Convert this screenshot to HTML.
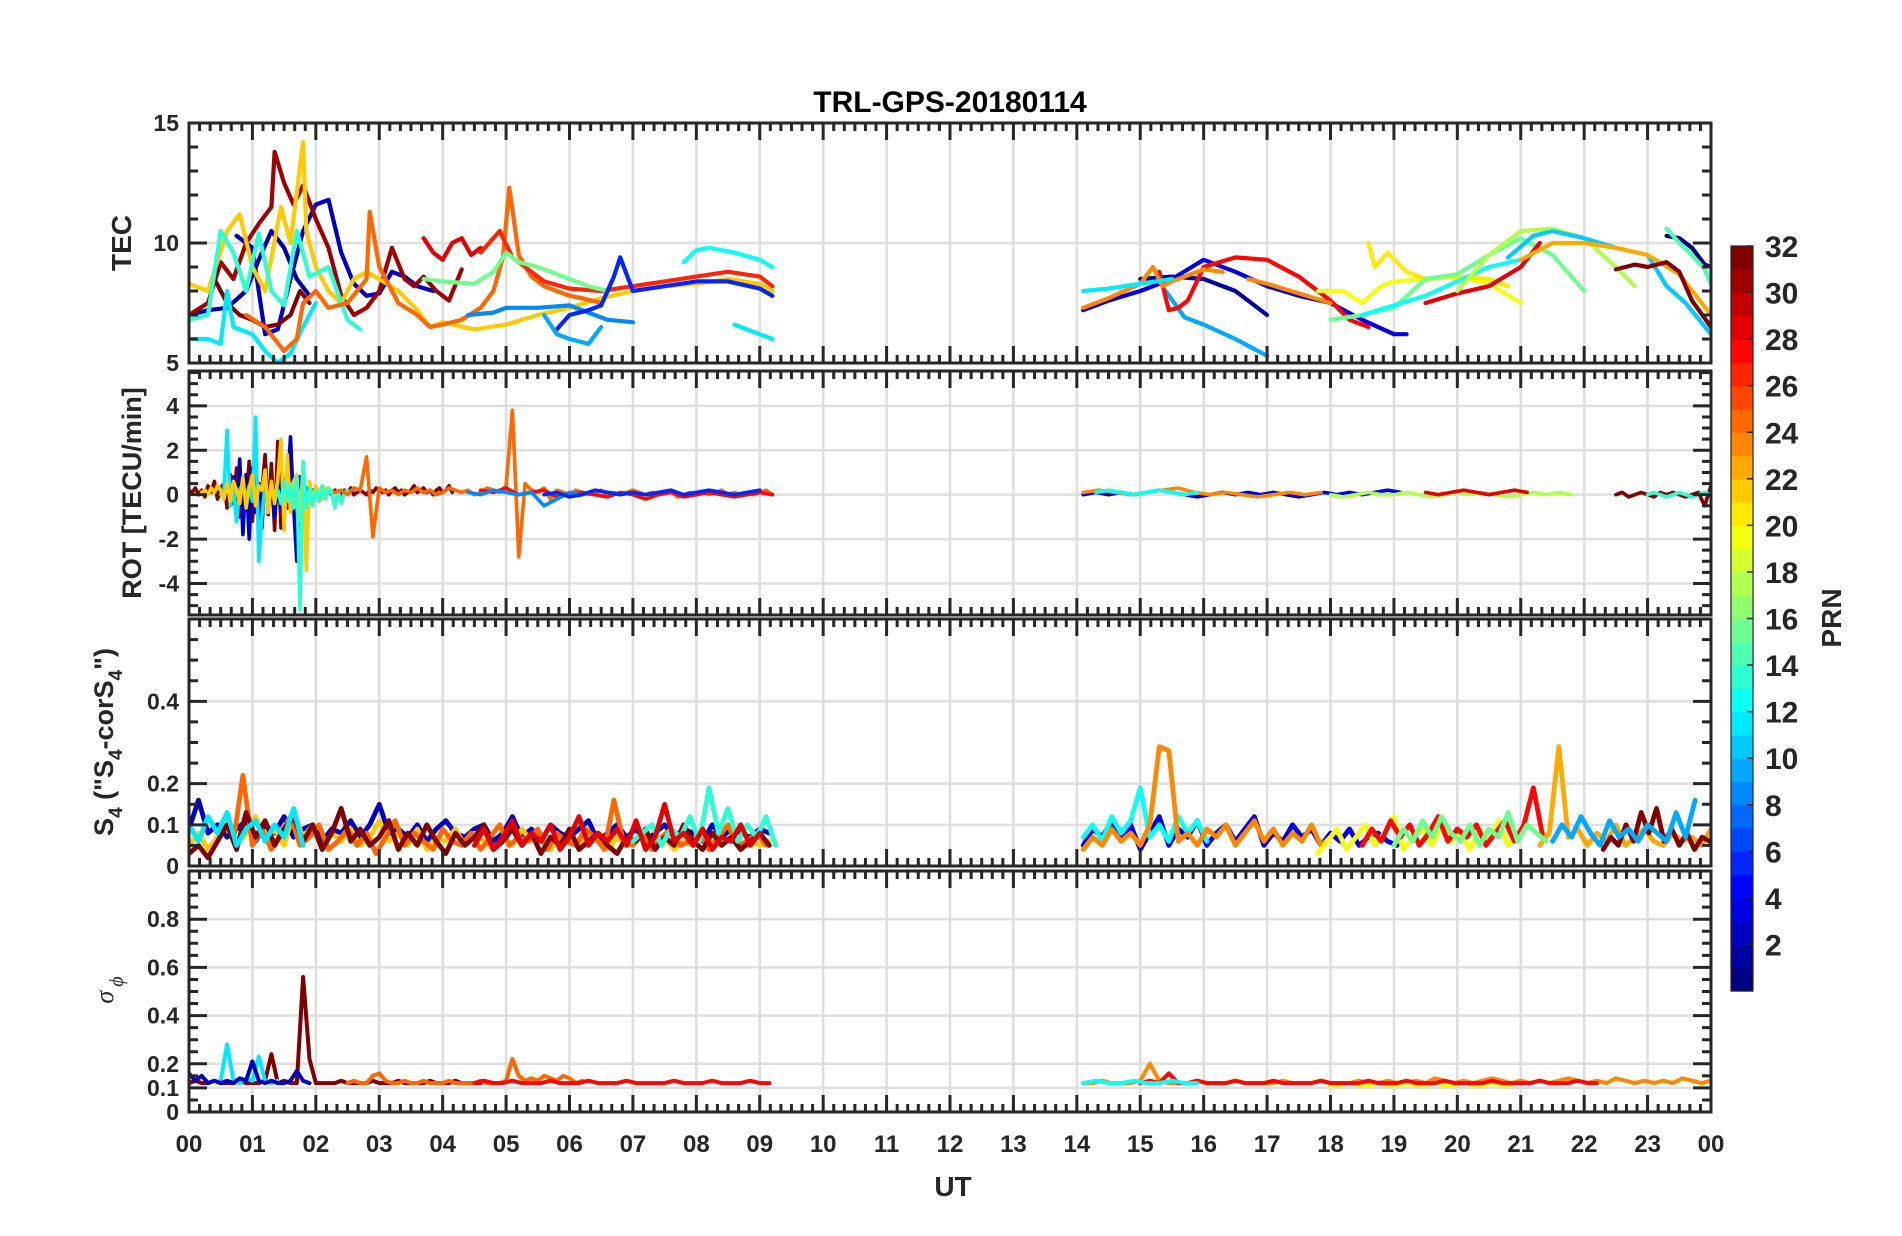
<!DOCTYPE html>
<html><head><meta charset="utf-8"><title>TRL-GPS-20180114</title>
<style>
html,body{margin:0;padding:0;background:#fff;}
svg{display:block;}
text{font-family:"Liberation Sans",Arial,sans-serif;font-weight:bold;fill:#262626;}
</style></head>
<body>
<svg id="chart" width="1902" height="1236" viewBox="0 0 1902 1236" xmlns="http://www.w3.org/2000/svg">
<rect x="0" y="0" width="1902" height="1236" fill="#fff"/>
<g id="grid"></g>
<g id="data"></g>
<g id="axes"></g>
<text x="950" y="112" font-size="30" text-anchor="middle" fill="#000" style="fill:#000">TRL-GPS-20180114</text>
<text transform="translate(131,243) rotate(-90)" font-size="28" text-anchor="middle">TEC</text>
<text transform="translate(141,493) rotate(-90)" font-size="27" text-anchor="middle">ROT [TECU/min]</text>
<text transform="translate(113,742) rotate(-90)" font-size="27" text-anchor="middle">S<tspan font-size="19" dy="9">4</tspan><tspan dy="-9"> ("S</tspan><tspan font-size="19" dy="9">4</tspan><tspan dy="-9">-corS</tspan><tspan font-size="19" dy="9">4</tspan><tspan dy="-9">")</tspan></text>
<text transform="translate(113,990) rotate(-90)" font-size="26" text-anchor="middle" style="font-family:'Liberation Serif',serif;font-style:italic;font-weight:normal">σ<tspan font-size="20" dy="10" dx="4">ϕ</tspan></text>
<text x="953" y="1196" font-size="28" text-anchor="middle">UT</text>
<g id="cbar"></g>
<text transform="translate(1841,618) rotate(-90)" font-size="28" text-anchor="middle">PRN</text>
</svg>
<script>
// ---------- TEC data ----------
const tecPrn = [2,3,31,32,22,12,14,25,29,27,16,9,6,10,13,12,
  2,4,10,28,24,12,24,20,21,16,13,29,18,11,23,32,1,15];
const tecTimes = [
 [0,0.3,0.6,0.9,1.1,1.3,1.5,1.7,1.9],
 [0.75,1.0,1.2,1.4,1.6,1.8,2.0,2.2,2.4,2.6,2.8,3.0,3.2,3.4,3.6,3.85],
 [0,0.3,0.5,0.7,0.9,1.1,1.3,1.35,1.5,1.65,1.8,2.0,2.2,2.4,2.6,2.8,3.0,3.2,3.4,3.55,3.7,3.9,4.1,4.3],
 [0.4,0.6,0.8,1.0,1.2,1.4,1.6,1.75,1.9],
 [0,0.3,0.6,0.8,1.0,1.2,1.45,1.6,1.8,1.85,2.0,2.2,2.4,2.6,2.8,3.0,3.3,3.6,3.8,4.0,4.5,5.0,5.5,6.0,6.5,7.0,7.5,8.0,8.5,9.0,9.2],
 [0,0.3,0.5,0.6,0.7,1.0,1.2,1.4,1.6,1.8,2.0],
 [0,0.3,0.5,0.7,0.9,1.1,1.3,1.5,1.7,1.9,2.2,2.5,2.7],
 [0.9,1.2,1.5,1.7,1.8,2.0,2.2,2.5,2.8,2.85,3.0,3.3,3.6,3.8,4.0,4.3,4.6,4.8,4.95,5.05,5.2,5.4,5.6,5.8,6.0,6.2,6.5],
 [3.7,3.85,4.0,4.15,4.3,4.45,4.6],
 [4.6,4.9,5.1,5.3,5.6,6.0,6.5,7.0,7.5,8.0,8.5,9.0,9.2],
 [3.7,4.0,4.5,4.8,5.0,5.2,5.5,6.0,6.3,6.6],
 [4.4,4.8,5.0,5.5,6.0,6.3,6.6,7.0],
 [5.8,6.0,6.3,6.5,6.7,6.8,7.0,7.5,8.0,8.5,9.0,9.2],
 [5.6,5.8,6.0,6.3,6.5],
 [7.8,8.0,8.2,8.6,9.0,9.2],
 [8.6,8.9,9.2],
 [15.0,15.5,16.0,16.5,17.0],
 [14.1,14.5,15.0,15.5,16.0,16.5,17.0,17.5,18.0,18.5,19.0,19.2],
 [15.4,15.7,16.0,16.5,17.0],
 [15.3,15.45,15.6,15.75,16.0,16.5,17.0,17.5,18.0,18.3,18.6],
 [14.1,14.5,15.0,15.2,15.35,15.5,15.7,16.0,16.3],
 [14.1,14.5,15.0,15.5],
 [16.7,17.0,17.5,18.0],
 [17.8,18.2,18.5,18.8,19.0,19.5,20.0,20.5,21.0],
 [18.6,18.7,18.9,19.2,19.5,20.0,20.5,20.8],
 [18.0,18.5,19.0,19.5,20.0,20.5,21.0,21.5,22.0],
 [18.5,19.0,19.5,20.0,20.5,21.0],
 [19.5,20.0,20.5,21.0,21.3],
 [20.0,20.5,21.0,21.5,22.0,22.5,22.8],
 [20.8,21.2,21.5,22.0,22.5,23.0,23.3,23.6,24.0],
 [21.0,21.5,22.0,22.5,23.0,23.5,24.0],
 [22.5,22.8,23.0,23.3,23.5,23.7,24.0],
 [23.3,23.5,23.7,23.9,24.0],
 [23.3,23.5,23.7,23.9,24.0]
];
const tecValues = [
 [7.0,7.2,7.3,8.0,9.3,10.5,9.8,8.5,7.8],
 [10.3,9.8,6.2,6.4,8.5,10.5,11.6,11.8,9.6,8.3,7.8,7.9,8.8,8.6,8.2,8.0],
 [7.0,7.5,9.2,8.5,10.0,10.8,11.5,13.8,12.5,11.6,12.4,11.0,9.8,7.8,7.0,7.3,8.0,9.8,8.5,8.2,8.6,8.0,7.6,8.9],
 [8.5,7.5,7.0,6.8,6.5,6.6,7.0,8.0,7.5],
 [8.3,8.0,10.5,11.2,9.0,8.0,11.5,10.0,14.2,10.5,9.0,8.0,7.5,8.5,8.8,8.5,8.0,7.2,6.5,6.7,6.4,6.6,7.0,7.3,7.7,8.0,8.2,8.3,8.5,8.3,8.0],
 [6.0,6.0,5.8,8.0,6.5,6.2,5.5,5.0,5.4,6.5,7.5],
 [6.8,7.0,10.5,9.6,8.0,10.4,8.0,7.4,10.5,8.6,9.0,6.8,6.4],
 [7.0,6.5,5.5,6.0,7.5,8.0,7.3,7.5,8.5,11.3,9.0,7.5,7.0,6.5,6.6,6.8,7.3,8.0,9.4,12.3,9.5,8.6,8.2,8.0,7.8,7.7,7.5],
 [10.2,9.6,9.3,10.0,10.2,9.5,9.8],
 [9.6,10.5,9.4,9.0,8.4,8.1,8.0,8.2,8.4,8.6,8.8,8.6,8.2],
 [8.5,8.4,8.3,8.8,9.6,9.2,9.0,8.5,8.2,8.0],
 [7.0,7.1,7.3,7.3,7.4,7.1,6.8,6.7],
 [6.4,7.0,7.2,7.4,8.6,9.4,8.0,8.2,8.4,8.4,8.1,7.8],
 [7.0,6.2,6.0,5.8,6.5],
 [9.2,9.7,9.8,9.6,9.3,9.0],
 [6.6,6.3,6.0],
 [8.5,8.6,8.5,8.0,7.0],
 [7.2,7.6,8.0,8.5,9.3,8.8,8.2,7.8,7.5,6.8,6.2,6.2],
 [8.0,6.9,6.6,6.0,5.3],
 [8.8,7.2,7.3,7.6,9.0,9.4,9.3,8.6,7.6,6.8,6.5],
 [7.3,7.7,8.3,9.0,8.2,8.4,8.6,8.9,8.8],
 [8.0,8.1,8.3,8.5],
 [8.5,8.3,7.9,7.5],
 [8.0,8.0,7.5,8.2,8.4,8.5,8.6,8.3,7.5],
 [10.0,9.0,9.6,8.8,8.5,8.6,8.5,8.2],
 [6.8,7.0,7.3,8.5,8.7,9.5,10.2,9.5,8.0],
 [7.0,7.4,7.8,8.4,9.0,9.3],
 [7.5,7.9,8.2,9.0,10.0],
 [8.0,9.5,10.5,10.6,10.2,9.0,8.2],
 [9.4,10.3,10.5,10.2,9.8,9.5,8.2,7.5,6.2],
 [9.3,10.0,10.0,9.8,9.5,8.7,7.0],
 [8.9,9.1,9.0,9.2,8.8,7.6,6.5],
 [10.3,10.2,9.8,9.1,9.0],
 [10.6,10.0,9.5,8.9,8.3]
];

// ---------- ROT data ----------
const rotPrn = [32,3,12,22,14,25,28,9,6,4,24,18,29,32,14,13];
const rotStart = [0,0.6,0.5,0.2,1.4,2.3,4.6,4.4,5.6,14.1,14.1,18.0,19.5,22.5,23.0,14.3];
const rotStep = [0.05,0.05,0.05,0.05,0.05,0.1,0.2,0.2,0.2,0.2,0.25,0.2,0.2,0.1,0.1,0.2];
const rotVals = [
 [0.2,0.1,0.3,0.0,0.2,-0.1,0.4,0.1,0.6,-0.2,0.3,0.5,-0.6,0.9,-0.4,1.2,-1.0,0.6,-0.3,1.5,-1.2,0.8,-0.5,0.2,1.8,-0.9,1.4,-1.6,2.4,-1.5,0.7,-0.6,1.0,-0.3,0.4,0.1,0.3,-0.2,0.2,0.1,0.2,0.0,0.3,0.1,0.2,0.0,0.2,0.1,0.0,0.2,0.1,0.3,0.0,0.1,0.2,0.1,0.0,0.2,0.1,0.3,0.2,0.1,0.2,0.0,0.2,0.3,0.1,0.2,0.0,0.1,0.2,0.4,0.1,0.2,0.3,0.1,0.2,0.0,0.2,0.3,0.1,0.2,0.4,0.1],
 [0.1,-0.3,0.8,-1.2,1.6,-1.8,0.9,-2.0,1.2,-0.8,0.5,-1.5,1.0,-0.6,0.3,-1.0,0.5,-0.7,0.4,0.2,2.6,-0.5,-3.0,0.8,-0.4,0.3,0.0,0.2,0.1],
 [0.0,0.2,2.9,-0.5,0.3,-1.2,0.2,0.5,-0.2,0.4,-0.3,3.5,-3.0,-1.0,0.5,-0.3,0.2,0.1,0.0,-0.1],
 [0.1,0.2,0.0,0.3,0.1,0.4,0.2,-0.2,0.5,-0.3,0.6,0.2,-0.4,0.8,-0.6,0.3,0.9,-0.5,0.4,0.2,1.1,-0.8,0.6,-0.4,0.7,2.5,-1.6,1.8,-0.8,0.6,0.9,-1.2,1.4,-3.4,0.6,-0.3,0.4,0.1,-0.2,0.3,0.1,0.2],
 [0.2,-0.4,0.6,-0.3,0.5,-0.6,0.8,-5.2,1.5,-0.6,0.3,-0.5,0.2,-0.3,0.4,-0.2,0.3,0.1,-0.6,0.2,-0.4,0.1,0.2],
 [0.1,0.2,0.0,0.3,0.2,1.7,-1.9,0.3,0.1,0.2,0.0,0.2,0.1,0.3,0.1,0.2,0.0,0.1,0.3,0.2,0.1,0.2,0.0,0.1,0.3,0.2,0.1,0.4,3.8,-2.8,0.5,0.2,0.1,0.3,-0.2,0.2,0.1,0.0,0.2,0.1,0.0,0.1,0.2,0.0,0.1,0.0,0.1,0.2,0.1,0.0,0.1,0.0,0.1,0.2,-0.1,0.0,0.1,0.0,0.1,0.0,0.1,0.2,0.0,0.1,0.0,0.1,0.0,0.1,0.2,0.0],
 [0.2,0.1,0.3,0.0,0.1,0.2,-0.1,0.0,0.1,0.0,-0.1,0.1,0.0,-0.2,0.0,0.1,-0.1,0.0,0.1,0.0,-0.1,0.0,0.1,0.0],
 [0.1,0.0,0.2,0.1,0.0,0.1,-0.5,-0.2,0.1,0.0,0.2,0.1,0.0,0.1],
 [0.0,0.1,-0.1,0.0,0.2,0.1,0.0,0.1,0.0,0.1,0.2,0.0,0.1,0.2,0.1,0.0,0.1,0.2],
 [0.0,0.1,0.0,0.1,0.0,0.1,0.2,0.1,0.0,-0.1,0.0,0.1,0.0,0.1,0.0,0.1,0.0,-0.1,0.0,0.1,0.0,0.1,0.0,0.1,0.2,0.1],
 [0.1,0.2,0.1,0.0,0.1,0.2,0.3,0.1,0.0,0.1,0.0,-0.1,0.0,0.1,0.0,0.1],
 [0.0,-0.1,0.0,0.1,0.0,0.0,0.1,0.0,-0.1,0.0,0.1,0.0,0.1,0.0,-0.1,0.0,0.1,0.0,0.1,0.0],
 [0.1,0.0,0.1,0.2,0.1,0.0,0.1,0.2,0.1],
 [0.0,0.1,-0.1,0.0,0.1,0.0,-0.1,0.1,0.0,0.1,0.0,-0.1,0.0,0.1,-0.5,0.4,0.0,-0.1,0.1,0.0,-0.1,0.0,0.1,-0.1,0.0,-0.2],
 [0.0,0.1,0.0,-0.1,0.0,0.1,0.0,-0.1,0.0,0.1,0.0],
 [0.1,0.2,0.1,0.0,0.1,0.2,0.1,0.0,0.1]
];

// ---------- S4 data ----------
const s4Prn = [3,22,25,32,12,14,29,4,13,24,20,28,23,32,10,16];
const s4Start = [0,0,0.7,0,0,7.0,4.5,14.1,14.1,14.1,17.8,18.5,21.3,22.3,21.5,19.0];
const s4Step = [0.15,0.15,0.15,0.15,0.15,0.15,0.15,0.15,0.15,0.15,0.15,0.15,0.15,0.12,0.15,0.15];
const s4Vals = [
 [0.09,0.16,0.08,0.1,0.07,0.09,0.11,0.06,0.1,0.08,0.12,0.07,0.09,0.1,0.06,0.09,0.08,0.11,0.07,0.1,0.15,0.08,0.09,0.07,0.1,0.06,0.09,0.11,0.08,0.07,0.09,0.1,0.06,0.08,0.12,0.07,0.09,0.06,0.1,0.08,0.07,0.09,0.11,0.06,0.08,0.1,0.07,0.09,0.06,0.08,0.1,0.07,0.09,0.08,0.06,0.1,0.07,0.09,0.08,0.07,0.09,0.08],
 [0.05,0.08,0.04,0.07,0.1,0.05,0.08,0.12,0.06,0.09,0.05,0.13,0.07,0.1,0.04,0.08,0.06,0.09,0.05,0.07,0.11,0.06,0.08,0.05,0.09,0.04,0.07,0.06,0.09,0.05,0.08,0.06,0.04,0.07,0.05,0.09,0.06,0.08,0.04,0.07,0.06,0.05,0.08,0.06,0.04,0.07,0.05,0.06,0.08,0.05,0.07,0.04,0.06,0.05,0.07,0.06,0.05,0.07,0.04,0.06,0.05,0.06],
 [0.06,0.22,0.05,0.09,0.04,0.08,0.12,0.05,0.07,0.1,0.04,0.06,0.09,0.05,0.08,0.03,0.07,0.11,0.05,0.08,0.06,0.04,0.09,0.06,0.05,0.08,0.04,0.07,0.1,0.05,0.07,0.06,0.09,0.04,0.08,0.06,0.05,0.09,0.07,0.04,0.16,0.06,0.05,0.08,0.04,0.07,0.09,0.05,0.06,0.08,0.04,0.07,0.1,0.05,0.06,0.08,0.05],
 [0.03,0.05,0.02,0.06,0.1,0.04,0.13,0.07,0.11,0.05,0.09,0.12,0.06,0.1,0.04,0.08,0.14,0.06,0.09,0.05,0.07,0.11,0.04,0.08,0.05,0.1,0.06,0.03,0.08,0.05,0.07,0.1,0.04,0.06,0.09,0.05,0.08,0.03,0.07,0.05,0.09,0.04,0.06,0.08,0.05,0.03,0.07,0.06,0.09,0.04,0.07,0.05,0.1,0.06,0.04,0.08,0.05,0.07,0.04,0.06,0.08,0.05],
 [0.1,0.06,0.12,0.08,0.13,0.05,0.09,0.11,0.06,0.1,0.07,0.14,0.05],
 [0.06,0.08,0.1,0.05,0.09,0.07,0.12,0.06,0.19,0.08,0.14,0.06,0.1,0.07,0.12,0.05],
 [0.05,0.09,0.04,0.07,0.11,0.05,0.08,0.06,0.1,0.04,0.07,0.12,0.05,0.08,0.06,0.09,0.05,0.11,0.04,0.07,0.15,0.06,0.08,0.05,0.09,0.04,0.07,0.06,0.1,0.05,0.08],
 [0.05,0.09,0.07,0.11,0.06,0.1,0.04,0.08,0.12,0.05,0.09,0.07,0.11,0.05,0.08,0.1,0.06,0.09,0.12,0.05,0.08,0.06,0.1,0.07,0.09,0.05,0.08,0.06,0.09,0.05,0.07,0.08,0.06,0.05],
 [0.07,0.1,0.06,0.12,0.08,0.11,0.19,0.07,0.1,0.06,0.12,0.08,0.11,0.06],
 [0.04,0.07,0.05,0.09,0.06,0.08,0.05,0.1,0.29,0.28,0.06,0.08,0.05,0.09,0.07,0.1,0.05,0.08,0.11,0.06,0.09,0.05,0.08,0.06,0.1,0.05,0.07],
 [0.03,0.06,0.09,0.04,0.07,0.1,0.05,0.08,0.12,0.04,0.07,0.09,0.05,0.1,0.06,0.08,0.04,0.09,0.06,0.11,0.05,0.08],
 [0.05,0.09,0.06,0.11,0.07,0.1,0.05,0.08,0.12,0.06,0.09,0.07,0.1,0.05,0.08,0.11,0.06,0.1,0.19,0.07],
 [0.05,0.08,0.29,0.07,0.09,0.05,0.08,0.06,0.1,0.05,0.07,0.09,0.06,0.05,0.08,0.06,0.07,0.05,0.09],
 [0.04,0.07,0.05,0.1,0.06,0.13,0.08,0.14,0.06,0.09,0.05,0.08,0.04,0.07,0.06,0.05,0.08,0.04,0.06,0.05],
 [0.06,0.1,0.07,0.12,0.08,0.05,0.11,0.07,0.09,0.06,0.1,0.08,0.06,0.13,0.07,0.16],
 [0.05,0.09,0.06,0.11,0.07,0.12,0.08,0.06,0.1,0.05,0.09,0.07,0.13,0.06,0.1,0.08,0.06]
];

// ---------- sigma-phi data ----------
const sigPrn = [32,12,3,25,28,24,20,28,13];
const sigStart = [0,0.5,0,2.5,4.5,14.1,18.0,15.0,14.1];
const sigStep = [0.1,0.1,0.1,0.1,0.15,0.15,0.15,0.15,0.2];
const sigVals = [
 [0.12,0.13,0.12,0.12,0.13,0.12,0.12,0.12,0.13,0.12,0.12,0.12,0.13,0.24,0.12,0.13,0.12,0.12,0.56,0.22,0.12,0.12,0.12,0.12,0.13,0.12,0.12,0.12,0.12,0.13,0.12,0.12,0.12,0.13,0.12,0.12,0.12,0.12,0.13,0.12,0.12,0.12,0.13,0.12,0.12,0.12,0.12],
 [0.13,0.28,0.13,0.12,0.14,0.13,0.23,0.13,0.12,0.13],
 [0.16,0.13,0.15,0.12,0.13,0.12,0.13,0.12,0.14,0.13,0.21,0.13,0.12,0.13,0.12,0.12,0.13,0.17,0.13,0.12],
 [0.12,0.13,0.12,0.12,0.15,0.16,0.13,0.12,0.12,0.13,0.12,0.12,0.13,0.12,0.12,0.12,0.13,0.12,0.12,0.12,0.12,0.13,0.12,0.12,0.12,0.13,0.22,0.15,0.13,0.14,0.13,0.15,0.14,0.13,0.15,0.14,0.12,0.13],
 [0.12,0.13,0.12,0.12,0.13,0.12,0.12,0.12,0.13,0.12,0.12,0.12,0.13,0.12,0.12,0.12,0.13,0.12,0.12,0.12,0.12,0.13,0.12,0.12,0.12,0.13,0.12,0.12,0.12,0.13,0.12,0.12],
 [0.12,0.12,0.13,0.12,0.12,0.12,0.13,0.2,0.13,0.12,0.12,0.12,0.13,0.12,0.12,0.12,0.13,0.12,0.12,0.12,0.12,0.13,0.12,0.12,0.12,0.13,0.12,0.12,0.12,0.13,0.12,0.12,0.13,0.12,0.12,0.13,0.12,0.14,0.13,0.12,0.13,0.12,0.13,0.14,0.13,0.12,0.13,0.12,0.13,0.12,0.13,0.14,0.13,0.12,0.13,0.12,0.14,0.13,0.12,0.13,0.12,0.13,0.12,0.14,0.13,0.12,0.13],
 [0.11,0.11,0.12,0.11,0.11,0.12,0.11,0.11,0.12,0.11,0.11,0.12,0.11,0.11,0.12,0.11,0.11,0.12,0.11,0.11],
 [0.12,0.13,0.12,0.16,0.12,0.12,0.13,0.12,0.12,0.12,0.13,0.12,0.12,0.12,0.13,0.12,0.12,0.12,0.12,0.13,0.12,0.12,0.12,0.12,0.13,0.12,0.12,0.12,0.13,0.12,0.12,0.12,0.13,0.12,0.12,0.12,0.12,0.13,0.12,0.12,0.12,0.12,0.13,0.12,0.12,0.12,0.13,0.12,0.12],
 [0.12,0.13,0.12,0.12,0.13,0.12,0.12,0.13,0.12,0.12]
];

// ---------- tick labels ----------
const xTickLabels = ["00","01","02","03","04","05","06","07","08","09","10","11","12","13","14","15","16","17","18","19","20","21","22","23","00"];
const tecTicks = [5,10,15];
const rotTicks = [-4,-2,0,2,4];
const s4Ticks = [0,0.1,0.2,0.4];
const sigTicks = [0,0.1,0.2,0.4,0.6,0.8];
const cbarTicks = [2,4,6,8,10,12,14,16,18,20,22,24,26,28,30,32];

// ---------- layout ----------
const NS = "http://www.w3.org/2000/svg";
const X0 = 189, X1 = 1711;
function xScale(h){ return X0 + h*(X1-X0)/24; }
const panels = [
 {name:"tec", top:123, bot:363, min:5, max:15, ticks:tecTicks, minor:1, fmt:v=>String(v)},
 {name:"rot", top:371, bot:615, min:-5.42, max:5.57, ticks:rotTicks, minor:0.5, fmt:v=>String(v)},
 {name:"s4", top:619, bot:866, min:0, max:0.6, ticks:s4Ticks, minor:0.05, fmt:v=>String(v)},
 {name:"sigma", top:871, bot:1112, min:0, max:1, ticks:sigTicks, minor:0.05, fmt:v=>String(v)}
];
function yScale(p, v){ return p.bot - (v - p.min)/(p.max - p.min)*(p.bot - p.top); }
function jet(prn){
  const v = (prn-1)/31;
  const c = x => Math.round(255*Math.max(0,Math.min(1,x)));
  return "rgb("+c(1.5-Math.abs(4*v-3))+","+c(1.5-Math.abs(4*v-2))+","+c(1.5-Math.abs(4*v-1))+")";
}
function mk(tag, attrs, parent){
  const e = document.createElementNS(NS, tag);
  for (const k in attrs) e.setAttribute(k, attrs[k]);
  parent.appendChild(e);
  return e;
}
const gGrid = document.getElementById("grid");
const gData = document.getElementById("data");
const gAxes = document.getElementById("axes");
const defs = mk("defs", {}, document.getElementById("chart"));

panels.forEach((p, pi) => {
  const cp = mk("clipPath", {id:"clip"+pi}, defs);
  mk("rect", {x:X0, y:p.top, width:X1-X0, height:p.bot-p.top}, cp);
  for (let h=1; h<24; h++){
    const gl = mk("line", {x1:xScale(h), x2:xScale(h), y1:p.top, y2:p.bot, stroke:"#dedede", "stroke-width":2.5}, gGrid);
    
    
  }
  p.ticks.forEach(v => {
    if (v <= p.min || v >= p.max) return;
    const gl = mk("line", {x1:X0, x2:X1, y1:yScale(p,v), y2:yScale(p,v), stroke:"#dedede", "stroke-width":2.5}, gGrid);
    
    
  });
});

function drawLine(pi, prn, ts, vs, width, label){
  const p = panels[pi];
  let d = "";
  for (let i=0;i<ts.length;i++){
    d += (i?"L":"M") + xScale(ts[i]).toFixed(1) + "," + yScale(p, vs[i]).toFixed(1);
  }
  const path = mk("path", {d:d, fill:"none", stroke:jet(prn), "stroke-width":width, "stroke-linejoin":"round", "stroke-linecap":"round", "clip-path":"url(#clip"+pi+")"}, gData);
  
  
}
tecPrn.forEach((prn,i) => drawLine(0, prn, tecTimes[i], tecValues[i], 4.2, 'tec-line'));
function drawStepSeries(pi, prns, starts, steps, vals, width, label){
  prns.forEach((prn,i) => {
    const ts = vals[i].map((_,k) => starts[i] + k*steps[i]);
    drawLine(pi, prn, ts, vals[i], width, label);
  });
}
drawStepSeries(1, rotPrn, rotStart, rotStep, rotVals, 3.6, 'rot-line');
drawStepSeries(2, s4Prn, s4Start, s4Step, s4Vals, 4.8, 's4-line');
drawStepSeries(3, sigPrn, sigStart, sigStep, sigVals, 4.0, 'sigma-line');

panels.forEach((p, pi) => {
  const box = mk("rect", {x:X0, y:p.top, width:X1-X0, height:p.bot-p.top, fill:"none", stroke:"#262626", "stroke-width":3}, gAxes);
  
  
  let d = "";
  for (let m=0; m<=24*6; m++){
    const x = xScale(m/6);
    const L = (m%6===0) ? 17 : 8;
    d += "M"+x+","+p.bot+"v"+(-L)+"M"+x+","+p.top+"v"+L;
  }
  const nMinor = Math.round((p.max - p.min)/p.minor) + 2;
  const start = Math.ceil(p.min/p.minor - 1e-6);
  for (let k=start; k<start+nMinor; k++){
    const v = k*p.minor;
    if (v < p.min - 1e-9 || v > p.max + 1e-9) continue;
    const y = yScale(p, v);
    const major = p.ticks.some(t => Math.abs(t - v) < 1e-6);
    const L = major ? 18 : 9;
    d += "M"+X0+","+y+"h"+L+"M"+X1+","+y+"h"+(-L);
  }
  const tk = mk("path", {d:d, stroke:"#262626", "stroke-width":3, fill:"none"}, gAxes);
  
  
  p.ticks.forEach(v => {
    const t = mk("text", {x:X0-10, y:yScale(p,v)+8, "font-size":23, "text-anchor":"end"}, gAxes);
    t.textContent = p.fmt(v);
    
    
  });
});
xTickLabels.forEach((lab, h) => {
  const t = mk("text", {x:xScale(h), y:1152, "font-size":24, "text-anchor":"middle"}, gAxes);
  t.textContent = lab;
  
  
});

// colorbar
const gC = document.getElementById("cbar");
const CB = {x:1731, w:22, top:246, bot:991};
for (let k=1; k<=32; k++){
  const h = (CB.bot-CB.top)/32;
  const r = mk("rect", {x:CB.x, y:CB.top + (32-k)*h, width:CB.w, height:h+0.6, fill:jet(k)}, gC);
  
  
}
const cbFrame = mk("rect", {x:CB.x, y:CB.top, width:CB.w, height:CB.bot-CB.top, fill:"none", stroke:"#262626", "stroke-width":1.2}, gC);


cbarTicks.forEach(v => {
  const y = CB.top + (32.5 - v)*(CB.bot-CB.top)/32 - (CB.bot-CB.top)/64;
  const ln = mk("line", {x1:CB.x+CB.w-6, x2:CB.x+CB.w, y1:y, y2:y, stroke:"#262626", "stroke-width":1.5}, gC);
  
  
  const t = mk("text", {x:1765, y:y+11, "font-size":30}, gC);
  t.textContent = String(v);
  
  
});
</script>
</body></html>
